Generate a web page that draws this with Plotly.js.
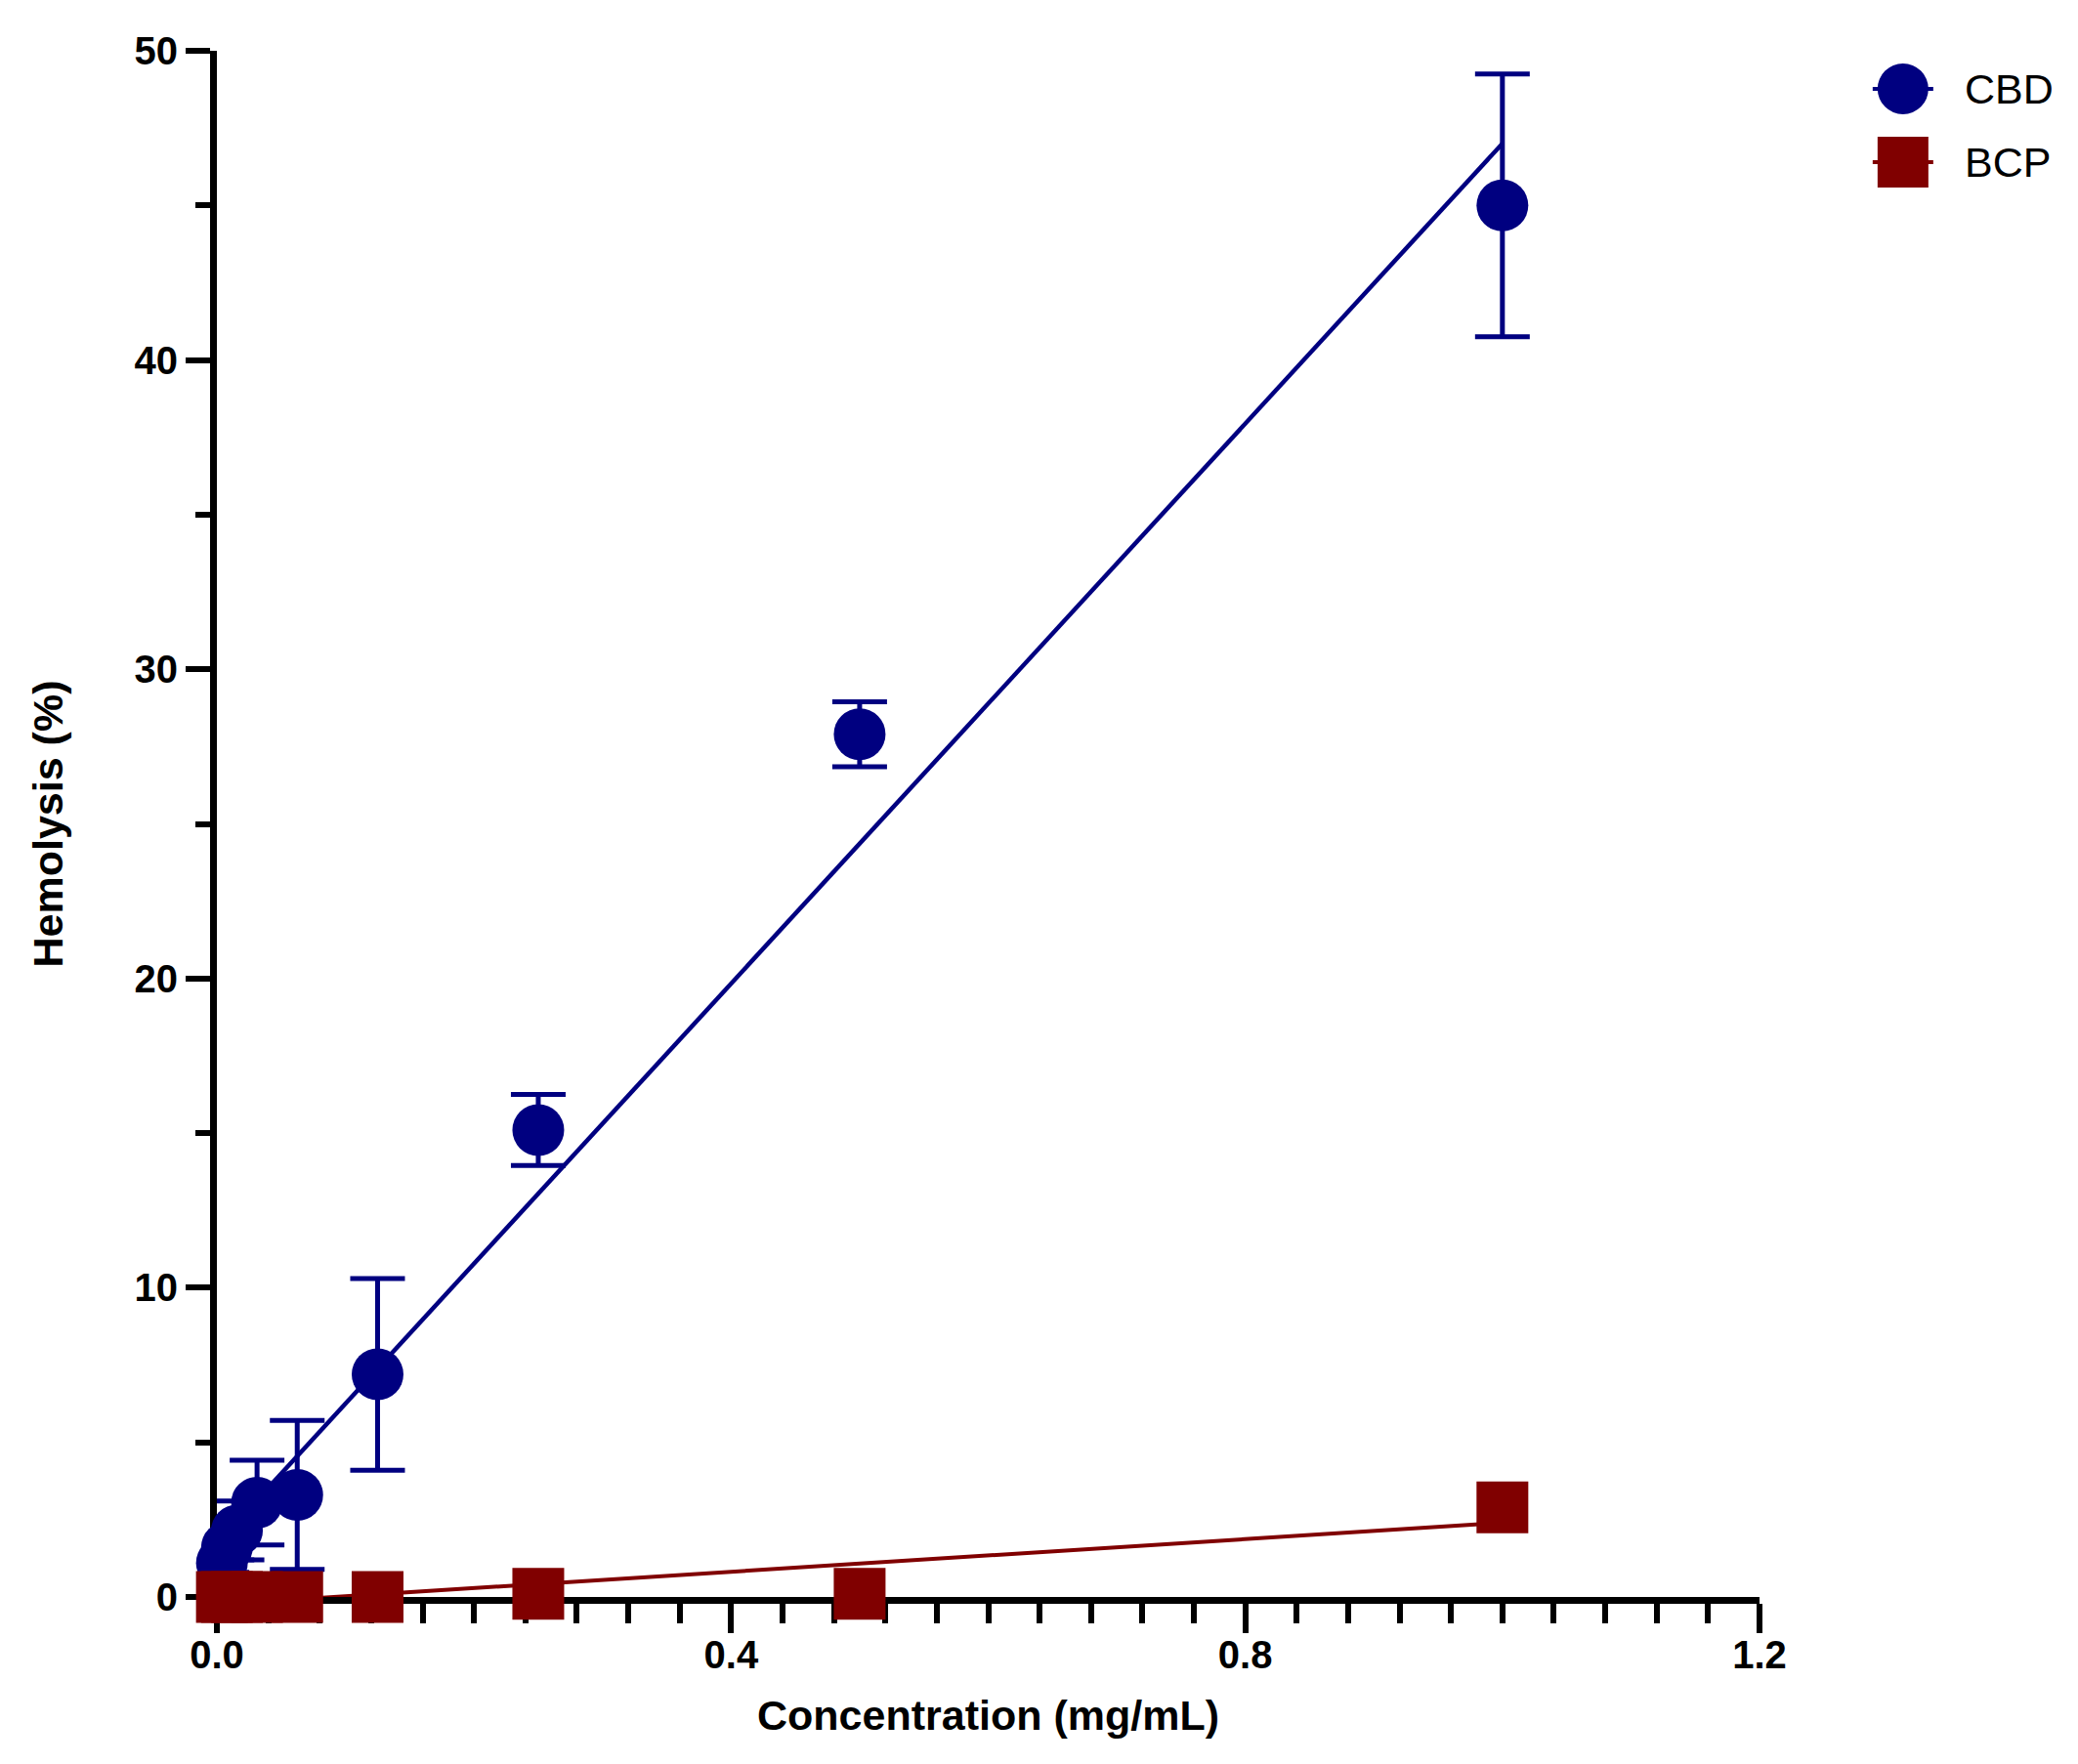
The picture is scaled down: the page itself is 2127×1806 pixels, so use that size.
<!DOCTYPE html>
<html>
<head>
<meta charset="utf-8">
<script src="https://cdn.plot.ly/plotly-3.0.1.min.js"></script>
<style>
  html, body { margin: 0; padding: 0; background: #fff; }
  #graph { width: 2127px; height: 1806px; }
</style>
</head>
<body>
<div id="graph"></div>
<script>
// concentrations (mg/mL)
const conc = [0.00390625, 0.0078125, 0.015625, 0.03125, 0.0625, 0.125, 0.25, 0.5, 1.0];

// hemolysis (%) mean and error
const cbdMean = [1.1, 1.6, 2.15, 3.05, 3.3, 7.2, 15.1, 27.9, 45.0];
const cbdErr = [0.3, 0.4, 0.95, 1.37, 2.41, 3.1, 1.15, 1.05, 4.25];
const bcpMean = [0, 0, 0, 0, 0, 0, 0.1, 0.1, 2.9];

// linear fit end points
const cbdFitX = [0.0039, 1.0];
const cbdFitY = [1.9, 47.0];
const bcpFitX = [0.0039, 1.0];
const bcpFitY = [-0.23, 2.4];

const seriesNames = ["CBD", "BCP"];
const seriesColors = ["#000080", "#800000"];
const seriesSymbols = ["circle", "square"];

const fontFamily = "Liberation Sans, Arial, sans-serif";
const tickFont = { family: fontFamily, size: 40, color: "#000", weight: 700 };
const titleFont = { family: fontFamily, size: 43, color: "#000", weight: 700 };

function createGraph() {
  const data = [
    {
      x: cbdFitX, y: cbdFitY, mode: "lines", type: "scatter",
      line: { color: seriesColors[0], width: 4.5 },
      showlegend: false, hoverinfo: "skip"
    },
    {
      x: bcpFitX, y: bcpFitY, mode: "lines", type: "scatter",
      line: { color: seriesColors[1], width: 4 },
      showlegend: false, hoverinfo: "skip"
    },
    {
      x: conc, y: cbdMean, mode: "markers", type: "scatter", name: seriesNames[0],
      marker: { symbol: seriesSymbols[0], size: 53, color: seriesColors[0] },
      error_y: { type: "data", array: cbdErr, visible: true, color: seriesColors[0], thickness: 5, width: 28 },
      cliponaxis: false, showlegend: false
    },
    {
      x: conc, y: bcpMean, mode: "markers", type: "scatter", name: seriesNames[1],
      marker: { symbol: seriesSymbols[1], size: 53, color: seriesColors[1] },
      cliponaxis: false, showlegend: false
    }
  ];

  // hand drawn legend so markers keep their real size
  const shapes = [];
  const annotations = [];
  const legX = 1.093;
  const legY = [0.9754, 0.928];
  seriesNames.forEach((name, i) => {
    shapes.push({
      type: "line", xref: "paper", yref: "paper",
      xsizemode: "pixel", ysizemode: "pixel", xanchor: legX, yanchor: legY[i],
      x0: -31, x1: 31, y0: 0, y1: 0,
      line: { color: seriesColors[i], width: 4 }
    });
    shapes.push({
      type: seriesSymbols[i] === "circle" ? "circle" : "rect", xref: "paper", yref: "paper",
      xsizemode: "pixel", ysizemode: "pixel", xanchor: legX, yanchor: legY[i],
      x0: -26, x1: 26, y0: -26, y1: 26,
      fillcolor: seriesColors[i], line: { width: 0 }
    });
    annotations.push({
      text: name, xref: "paper", yref: "paper", x: 1.132, y: legY[i],
      xanchor: "left", yanchor: "middle", showarrow: false,
      font: { family: fontFamily, size: 43, color: "#000" }
    });
  });

  Plotly.newPlot("graph", data, {
    width: 2127,
    height: 1806,
    paper_bgcolor: "#fff",
    plot_bgcolor: "#fff",
    showlegend: false,
    margin: { l: 222, r: 326, t: 52, b: 171 },
    xaxis: {
      range: [0, 1.2],
      tickvals: [0, 0.4, 0.8, 1.2],
      ticktext: ["0.0", "0.4", "0.8", "1.2"],
      showgrid: false, zeroline: false,
      showline: true, linecolor: "#000", linewidth: 7,
      ticks: "outside", ticklen: 30, tickwidth: 6, tickcolor: "#000",
      minor: { dtick: 0.04, ticks: "outside", ticklen: 20, tickwidth: 6, tickcolor: "#000", showgrid: false },
      tickfont: tickFont,
      ticklabelstandoff: -12,
      layer: "below traces",
      title: { text: "Concentration (mg/mL)", font: titleFont, standoff: 28 }
    },
    yaxis: {
      range: [0, 50],
      tickvals: [0, 10, 20, 30, 40, 50],
      showgrid: false, zeroline: false,
      showline: true, linecolor: "#000", linewidth: 7,
      ticks: "outside", ticklen: 25, tickwidth: 6, tickcolor: "#000",
      minor: { dtick: 5, ticks: "outside", ticklen: 15, tickwidth: 6, tickcolor: "#000", showgrid: false },
      tickfont: tickFont,
      layer: "below traces",
      title: { text: "Hemolysis (%)", font: titleFont, standoff: 62 }
    },
    shapes: shapes,
    annotations: annotations
  }, { staticPlot: true });
}
createGraph();
</script>
</body>
</html>
